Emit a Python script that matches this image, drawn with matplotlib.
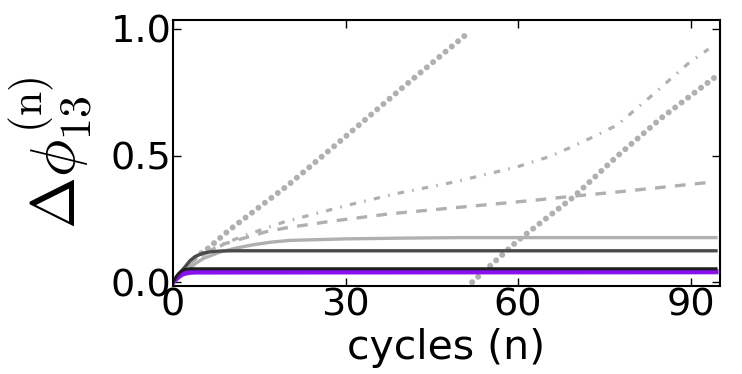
import matplotlib
matplotlib.use("Agg")
import matplotlib.pyplot as plt

plt.rcParams['mathtext.fontset'] = 'cm'
plt.rcParams['font.family'] = ['DejaVu Sans']

# dotted series (wrapped phase), segment 1 and segment 2
dot1_x = [0, 2, 4, 6, 10, 20, 30, 40, 51.3]
dot1_y = [0, 0.05, 0.1, 0.132, 0.21, 0.383, 0.575, 0.77, 0.984]
dot2_x = [52, 60, 69.6, 77.2, 85, 94.1]
dot2_y = [0.0, 0.165, 0.336, 0.497, 0.65, 0.807]

dashdot_x = [0, 1, 2, 3, 5, 8, 12.8, 19.2, 30.2, 38.9, 49, 59.8, 65.6, 69.3, 73.1, 77.2, 83, 89.6, 93.1]
dashdot_y = [0, 0.03, 0.055, 0.075, 0.105, 0.145, 0.187, 0.237, 0.303, 0.35, 0.396, 0.455, 0.497, 0.534, 0.574, 0.62, 0.732, 0.864, 0.92]

dashed_x = [0, 1, 2, 3, 5, 9, 16.3, 19.8, 27.3, 37.7, 48.5, 62.6, 69.3, 77.2, 94]
dashed_y = [0, 0.03, 0.055, 0.075, 0.105, 0.152, 0.2, 0.215, 0.24, 0.27, 0.293, 0.323, 0.339, 0.356, 0.396]

light_x = [0, 1, 2.4, 4, 5.3, 8.2, 11, 14, 17, 20.3, 30, 40, 50, 60, 94.4]
light_y = [0, 0.02, 0.046, 0.075, 0.094, 0.119, 0.135, 0.148, 0.158, 0.165, 0.171, 0.174, 0.176, 0.176, 0.176]

dark_x = [0, 1, 2, 3, 4, 5.3, 6.5, 8.2, 10, 94.4]
dark_y = [0, 0.03, 0.058, 0.086, 0.103, 0.115, 0.12, 0.123, 0.124, 0.124]

black_x = [0, 0.5, 1, 1.5, 2, 3, 94.4]
black_y = [0, 0.02, 0.035, 0.045, 0.05, 0.053, 0.053]

purple_x = [0, 0.5, 1, 1.5, 2, 3, 4, 94.4]
purple_y = [0, 0.012, 0.022, 0.03, 0.035, 0.039, 0.04, 0.041]

xticks = [0, 30, 60, 90]
yticks = [0.0, 0.5, 1.0]

fig = plt.figure(figsize=(7.42, 3.74), dpi=100)
ax = fig.add_axes([173/742, 1-286/374, 547/742, 266/374])

grey = '#b0b0b0'
ax.plot(dot1_x, dot1_y, color=grey, lw=4.3, dashes=(0.01, 1.35), dash_capstyle='round')
ax.plot(dot2_x, dot2_y, color=grey, lw=4.3, dashes=(0.01, 1.35), dash_capstyle='round')
ax.plot(dashdot_x, dashdot_y, color=grey, lw=2.3, dashes=(2, 2.6, 0.5, 2.6))
ax.plot(dashed_x, dashed_y, color=grey, lw=2.4, dashes=(3.2, 2.8))
ax.plot(light_x, light_y, color=grey, lw=2.4)
ax.plot(dark_x, dark_y, color='#4a4a4a', lw=2.4)
ax.plot(purple_x, purple_y, color='#8a10f0', lw=3.6)
ax.plot(black_x, black_y, color='#1e1e1e', lw=2.2)

ax.set_xlim(0, 95.1)
ax.set_ylim(-0.015, 1.035)
ax.set_xticks(xticks)
ax.set_xticklabels([str(t) for t in xticks])
ax.set_yticks(yticks)
ax.set_yticklabels(['%.1f' % t for t in yticks])
ax.tick_params(direction='in', top=True, right=True, length=6, width=1,
               labelsize=27.5, pad=1)
for s in ax.spines.values():
    s.set_linewidth(1.5)

ax.set_xlabel('cycles (n)', fontsize=29.5, labelpad=3)
ax.set_ylabel(r'$\Delta\phi_{13}^{(\mathrm{n})}$', fontsize=45)
ax.yaxis.set_label_coords(-0.143, 0.5)

fig.savefig('out.png', dpi=100)
